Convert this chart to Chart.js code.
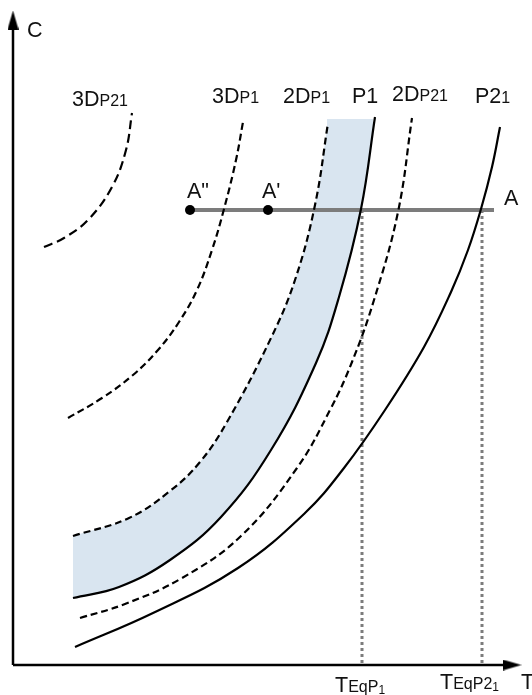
<!DOCTYPE html>
<html>
<head>
<meta charset="utf-8">
<script src="https://cdn.jsdelivr.net/npm/chart.js@4.4.1/dist/chart.umd.min.js"></script>
<style>
  html, body { margin: 0; padding: 0; background: #ffffff; }
  #wrap { width: 532px; height: 695px; }
</style>
</head>
<body>
<div id="wrap"><canvas id="c" width="532" height="695"></canvas></div>
<script>
// ---- data: [T, C] pairs ----
const curve3DP21 = [[31,418],[51,427],[75,445],[99,478],[113,515],[119,552]];
const curve3DP1  = [[55,247],[89,267],[120,290],[145,315],[166,343],[184,375],[199,415],[211,456],[223,505],[230,543]];
const curve2DP1  = [[60,129],[116,147],[157,174],[187,203],[214,243],[258,327],[282,385],[302,460],[315,542]];
const curveP1    = [[60,67],[106,78],[157,105],[208,148],[258,215],[303,302],[326,368],[348,456],[362,548]];
const curve2DP21 = [[67,47],[112,61],[169,87],[228,129],[284,197],[317,255],[339,303],[361,365],[385,453],[399,547]];
const curveP21   = [[62,18],[140,52],[225,97],[292,152],[331,197],[372,255],[411,318],[438,373],[455,415],[468,456],[479,498],[487,538]];
const bandTopEdge = [[314,546],[360,546]];
const lineA = [[177,455],[481,455]];
const pointsA = [[177,455],[255,455]];
const tEq = [349, 469];          // T_EqP1, T_EqP21
const cLineA = 455;
const axisT = [[0,0],[500,0]];
const axisC = [[0,0],[0,640]];
const arrowT = [[499,0]];
const arrowC = [[0,645]];

// ---- helpers ----
const xy = arr => arr.map(p => ({x: p[0], y: p[1]}));

function makeArrow() {
  const w = 11, h = 19;
  const cv = document.createElement('canvas');
  cv.width = w; cv.height = h;
  const g = cv.getContext('2d');
  g.fillStyle = '#000';
  g.beginPath();
  g.moveTo(w / 2, 0);
  g.lineTo(w, h);
  g.lineTo(0, h);
  g.closePath();
  g.fill();
  return cv;
}
const arrowImg = makeArrow();

const BLACK = '#000000';
const GREY = '#7c7c7c';
const BAND = '#d9e5f0';
const TENSION = 0.4;

function curve(data, dashed, order) {
  return {
    data: xy(data), showLine: true, borderColor: BLACK,
    borderWidth: 2.2, borderDash: dashed ? dashed : [],
    pointRadius: 0, tension: TENSION, fill: false, order: order
  };
}

const datasets = [];
const iP1 = 5;
datasets.push(curve(curve3DP21, [9, 5], 10));   // 0
datasets.push(curve(curve3DP1, [7, 4], 10));    // 1
datasets.push(curve(curve2DP1, [7, 4], 10));    // 2
datasets.push(curve(curve2DP21, [7, 4], 10));   // 3
datasets.push(curve(curveP21, null, 10));       // 4
datasets.push(curve(curveP1, null, 10));        // 5  (iP1)
// shaded band between 2DP1 and P1
datasets.push({
  data: xy(curve2DP1), showLine: true, borderWidth: 0, borderColor: 'rgba(0,0,0,0)',
  pointRadius: 0, tension: TENSION,
  fill: iP1, backgroundColor: BAND, order: 100
});
datasets.push({
  data: xy(bandTopEdge), showLine: true, borderWidth: 0, borderColor: 'rgba(0,0,0,0)',
  pointRadius: 0, fill: iP1, backgroundColor: BAND, order: 100
});
// dotted equilibrium verticals
tEq.forEach(t => datasets.push({
  data: [{x: t, y: cLineA}, {x: t, y: 0}], showLine: true, borderColor: GREY,
  borderWidth: 3, borderDash: [3, 3], pointRadius: 0, fill: false, order: 50
}));
// line A
datasets.push({
  data: xy(lineA), showLine: true, borderColor: GREY, borderWidth: 4,
  pointRadius: 0, fill: false, order: 20
});
// points A'' and A'
datasets.push({
  data: xy(pointsA), showLine: false, pointRadius: 5, pointBackgroundColor: BLACK,
  pointBorderColor: BLACK, pointBorderWidth: 0, order: 1
});
// axes
datasets.push({ data: xy(axisT), showLine: true, borderColor: BLACK, borderWidth: 2.5, pointRadius: 0, fill: false, order: 0 });
datasets.push({ data: xy(axisC), showLine: true, borderColor: BLACK, borderWidth: 2.5, pointRadius: 0, fill: false, order: 0 });
datasets.push({ data: xy(arrowT), showLine: false, pointStyle: arrowImg, pointRotation: 90, pointRadius: 10, order: 0 });
datasets.push({ data: xy(arrowC), showLine: false, pointStyle: arrowImg, pointRotation: 0, pointRadius: 10, order: 0 });

// ---- text labels (runs with sizes) ----
const FULL = 21.5, SMALL = 16;
const labels = [
  {t: 14,  c: 628, runs: [['C', FULL]]},
  {t: 59,  c: 559, runs: [['3D', FULL], ['P21', SMALL]]},
  {t: 199, c: 562, runs: [['3D', FULL], ['P1', SMALL]]},
  {t: 270, c: 562, runs: [['2D', FULL], ['P1', SMALL]]},
  {t: 339, c: 562, runs: [['P1', FULL]]},
  {t: 379, c: 564, runs: [['2D', FULL], ['P21', SMALL]]},
  {t: 462, c: 562, runs: [['P2', FULL], ['1', SMALL]]},
  {t: 174, c: 467, runs: [['A"', FULL]]},
  {t: 249, c: 467, runs: [["A'", FULL]]},
  {t: 491, c: 460, runs: [['A', FULL]]},
  {t: 322, c: -27, runs: [['T', FULL], ['EqP', 16], ['1', 12, 2]]},
  {t: 427, c: -24, runs: [['T', FULL], ['EqP2', 16], ['1', 12, 2]]},
  {t: 508, c: -24, runs: [['T', FULL]]}
];

const labelPlugin = {
  id: 'labels',
  afterDatasetsDraw(chart) {
    const {ctx, scales} = chart;
    ctx.save();
    ctx.fillStyle = '#111';
    ctx.textBaseline = 'alphabetic';
    ctx.textAlign = 'left';
    labels.forEach(l => {
      let x = scales.x.getPixelForValue(l.t);
      const y = scales.y.getPixelForValue(l.c);
      l.runs.forEach(r => {
        ctx.font = r[1] + 'px "Liberation Sans", Arial, sans-serif';
        ctx.fillText(r[0], x, y + (r[2] || 0));
        x += ctx.measureText(r[0]).width;
      });
    });
    ctx.restore();
  }
};

new Chart(document.getElementById('c'), {
  type: 'scatter',
  data: { datasets },
  options: {
    responsive: false,
    animation: false,
    events: [],
    layout: { padding: 0, autoPadding: false },
    plugins: { legend: { display: false }, tooltip: { enabled: false } },
    scales: {
      x: { type: 'linear', min: -13, max: 519, display: false },
      y: { type: 'linear', min: -30, max: 665, display: false }
    }
  },
  plugins: [labelPlugin]
});
</script>
</body>
</html>
